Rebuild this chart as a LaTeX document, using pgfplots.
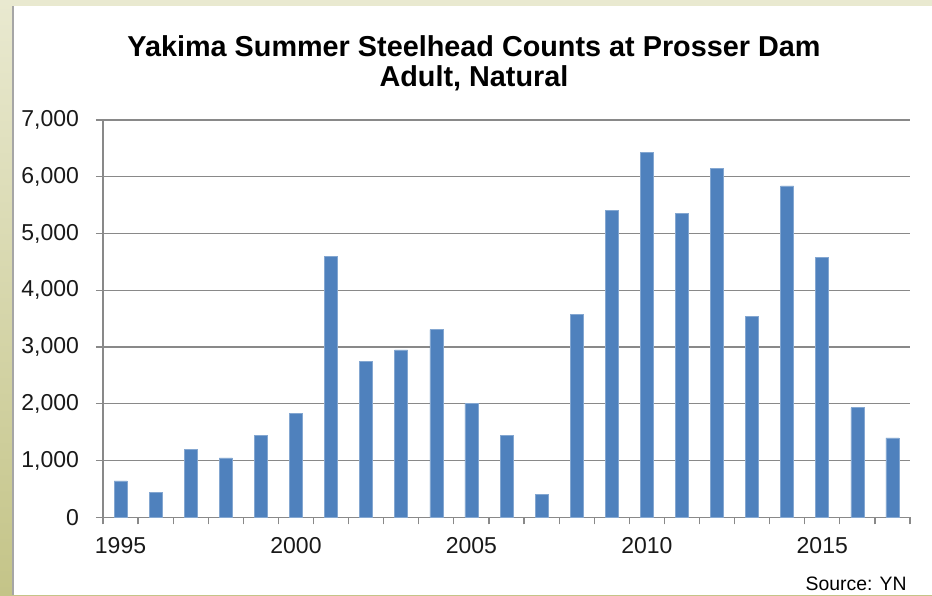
\documentclass[border=0pt]{standalone}
\usepackage{pgfplots}
\pgfplotsset{compat=1.18}
\usepackage{fontspec}
\setmainfont{Liberation Sans}
\definecolor{barblue}{HTML}{4F81BD}
\definecolor{gridgray}{HTML}{898989}
\definecolor{bgtop}{HTML}{E9E9D0}
\definecolor{bgbot}{HTML}{C4C488}
\begin{document}
\begin{tikzpicture}
\path[use as bounding box] (0,0) rectangle (466pt,297.5pt);
\shade[top color=bgtop, bottom color=bgbot] (0,0) rectangle (466pt,297.5pt);
\fill[white] (6.5pt,0) rectangle (466pt,294.25pt);
\draw[color=black!35, line width=0.7pt] (6.5pt,0) -- (6.5pt,294.25pt);
\begin{axis}[
  at={(51.5pt,38.85pt)}, anchor=south west,
  scale only axis, width=403.5pt, height=198.65pt,
  ybar, bar width=6.5pt,
  xmin=-0.5, xmax=22.5, ymin=0, ymax=7000,
  axis lines=left, axis line style={-, draw=gridgray, line width=0.6pt},
  ymajorgrids, grid style={gridgray, line width=0.6pt},
  ytick={0,1000,...,7000},
  xtick={0,5,10,15,20},
  xticklabels={1995,2000,2005,2010,2015},
  minor xtick={-0.5,0.5,...,22.5},
  tick align=outside,
  major tick length=3.5pt, minor tick length=3.5pt,
  x tick style={draw=none},
  minor x tick style={draw=gridgray, line width=0.6pt},
  y tick style={draw=gridgray, line width=0.6pt},
  tick label style={font=\fontsize{11.5pt}{13pt}\selectfont, text=black!90},
  yticklabel style={xshift=-5pt},
  xticklabel style={yshift=-3pt},
  /pgf/number format/.cd, 1000 sep={,}, assume math mode=true,
]
\addplot[fill=barblue, draw=barblue!70!white, line width=0.3pt] coordinates {
(0,640) (1,435) (2,1200) (3,1045) (4,1450) (5,1830) (6,4600) (7,2740)
(8,2950) (9,3305) (10,2010) (11,1450) (12,405) (13,3580) (14,5410)
(15,6430) (16,5355) (17,6150) (18,3535) (19,5840) (20,4575) (21,1930) (22,1400)
};
\end{axis}
\node[anchor=base, font=\bfseries\fontsize{14.4pt}{16pt}\selectfont] at (237pt,269.15pt) {Yakima Summer Steelhead Counts at Prosser Dam};
\node[anchor=base, font=\bfseries\fontsize{14.4pt}{16pt}\selectfont] at (237pt,254.15pt) {Adult, Natural};
\node[anchor=base east, inner sep=0pt, font=\fontsize{9.7pt}{11pt}\selectfont] at (453.5pt,2.5pt) {Source: YN};
\end{tikzpicture}
\end{document}
